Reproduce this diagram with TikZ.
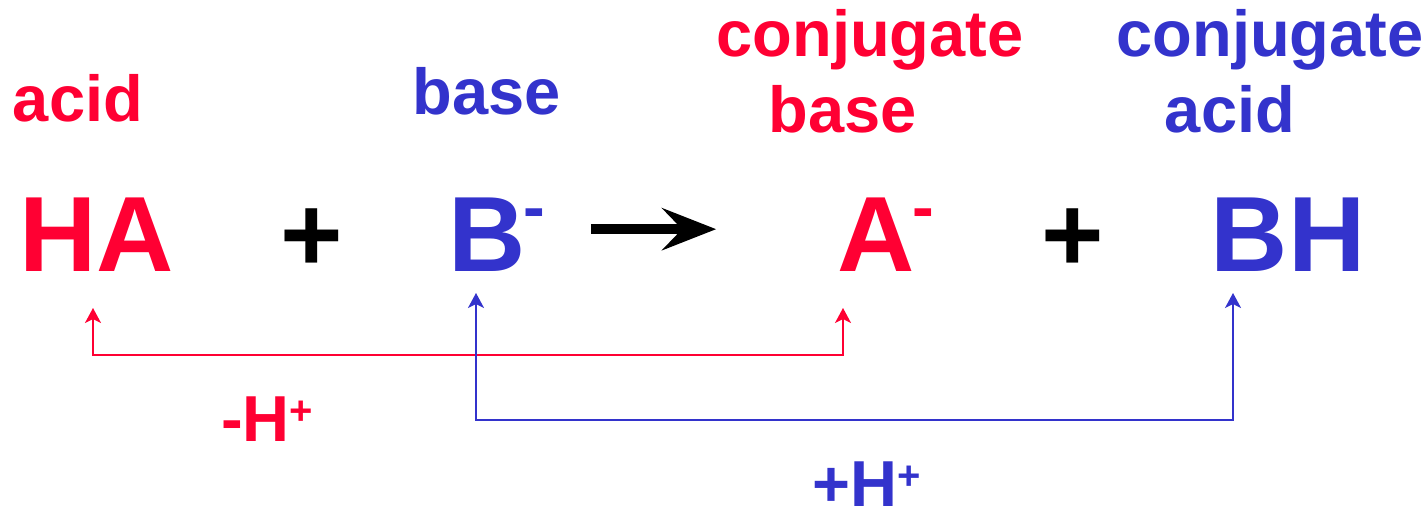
\documentclass[tikz,border=0pt]{standalone}
\usepackage{fontspec}
\setmainfont{Liberation Sans}
\usetikzlibrary{arrows.meta}
\definecolor{cR}{HTML}{FF0033}
\definecolor{cB}{HTML}{3333CC}
\tikzset{
  spc/.style ={inner sep=0pt,anchor=base,font=\fontsize{53.5}{53.5}\selectfont\bfseries},
  lbl/.style ={inner sep=0pt,anchor=base,font=\fontsize{32.5}{32.5}\selectfont\bfseries},
  rxn/.style ={-{Stealth[length=27pt,width=21pt,inset=10pt]},line width=5pt},
  pt/.style  ={{Stealth[length=7.5pt,width=8pt,inset=2pt]}-{Stealth[length=7.5pt,width=8pt,inset=2pt]},line width=1pt},
}
\newcommand{\chg}[1]{\kern-1pt\raisebox{21pt}{\fontsize{32.5}{32.5}\selectfont #1}}
\newcommand{\hp}{\raisebox{8.5pt}{\fontsize{20}{20}\selectfont +}}

\begin{document}
\begin{tikzpicture}[x=0.5pt,y=0.5pt]
\useasboundingbox (0,0) rectangle (1427,522);
% species
\node[spc,cR] (ha) at (97,250) {HA};
\node[spc] (p1) at (312,250) {+};
\node[spc,cB] (bm) at (497,250) {B\chg{-}};
\node[spc,cR] (am) at (886,250) {A\chg{-}};
\node[spc] (p2) at (1073,250) {+};
\node[spc,cB] (bh) at (1288,250) {BH};
% labels
\node[lbl,cR] (acid1) at (78,400) {acid};
\node[lbl,cB] (base1) at (487,407) {base};
\node[lbl,cR] (conj1) at (870,465) {conjugate};
\node[lbl,cR] (base2) at (843,389) {base};
\node[lbl,cB] (conj2) at (1270,465) {conjugate};
\node[lbl,cB] (acid2) at (1230,389) {acid};
\node[lbl,cR] (lose) at (267,80) {-H\hp};
\node[lbl,cB] (gain) at (867,15) {+H\hp};
% arrows
\draw[rxn,shorten <=22.5pt,shorten >=60.5pt] ([yshift=3pt]bm.east) -- ([yshift=3pt]am.west);
\draw[pt,cR] ([shift={(-4,-36)}]ha.base) -- ++(0,-47) -| ([shift={(-43,-36)}]am.base);
\draw[pt,cB] ([shift={(-21,-21)}]bm.base) -- ++(0,-127) -| ([shift={(-55,-21)}]bh.base);
\end{tikzpicture}
\end{document}
